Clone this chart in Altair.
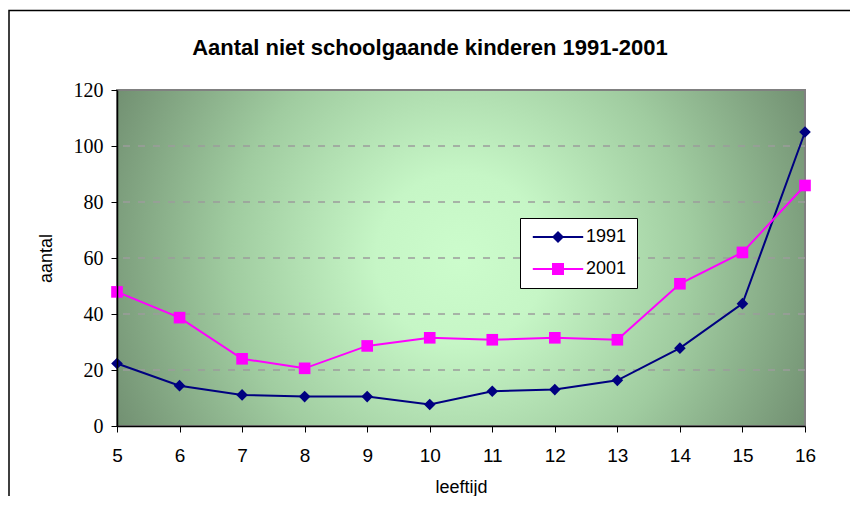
import altair as alt
import pandas as pd

# ---- data ----
ages = [5, 6, 7, 8, 9, 10, 11, 12, 13, 14, 15, 16]
v1991 = [22.3, 14.4, 11.1, 10.5, 10.5, 7.7, 12.4, 13.0, 16.3, 27.8, 43.7, 105.0]
v2001 = [47.9, 38.7, 24.0, 20.6, 28.6, 31.5, 30.8, 31.5, 30.8, 50.8, 62.0, 85.9]
series = ["1991", "2001"]
series_colors = ["#000080", "#ff00ff"]
y_ticks = [0, 20, 40, 60, 80, 100, 120]
grid_values = [20, 40, 60, 80, 100]

rows = []
for name, vals in zip(series, [v1991, v2001]):
    for a, v in zip(ages, vals):
        rows.append({"leeftijd": a, "aantal": v, "serie": name, "lijn": name})
df = pd.DataFrame(rows)
grid_df = pd.DataFrame({"g": grid_values})
one = pd.DataFrame({"k": [0]})

W, H = 688, 336
xscale = alt.Scale(domain=[5, 16], nice=False, zero=False)
yscale = alt.Scale(domain=[0, 120], nice=False)

bg_gradient = {
    "gradient": "radial",
    "x1": 0.5, "y1": 0.5, "r1": 0,
    "x2": 0.5, "y2": 0.5, "r2": 0.56,
    "stops": [
        {"offset": 0, "color": "#ccfccc"},
        {"offset": 0.22, "color": "#c6f6c6"},
        {"offset": 0.6, "color": "#a0cca0"},
        {"offset": 1, "color": "#718f71"},
    ],
}

frame = alt.Chart(one).mark_rect(
    fill="transparent", stroke="black", strokeWidth=1.5
).encode(
    x=alt.value(-108), x2=alt.value(900), y=alt.value(-79.5), y2=alt.value(700)
)

bg = alt.Chart(one).mark_rect(
    fill=bg_gradient, stroke="#808080", strokeWidth=2
).encode(
    x=alt.value(0), x2=alt.value("width"), y=alt.value(0), y2=alt.value("height")
)

xaxis = alt.Axis(
    values=ages, format="d", title="leeftijd", grid=False, zindex=1,
    tickSize=6, tickColor="black", domainColor="black", domainWidth=1.5,
    labelFont="Liberation Sans", labelFontSize=19, labelColor="black",
    labelPadding=14, labelFlush=False,
    titleFont="Liberation Sans", titleFontSize=18, titleFontWeight="normal",
    titleColor="black", titlePadding=13,
)
yaxis = alt.Axis(
    values=y_ticks, format="d", title="aantal", grid=False, zindex=1,
    tickSize=6, tickColor="black", domainColor="black", domainWidth=1.5,
    labelFont="Liberation Serif", labelFontSize=20, labelColor="black",
    labelPadding=8,
    titleFont="Liberation Sans", titleFontSize=18, titleFontWeight="normal",
    titleColor="black", titlePadding=18,
)

grid = alt.Chart(grid_df).mark_rule(
    color="#9c9c9c", strokeDash=[7, 8], strokeWidth=1.5
).encode(y=alt.Y("g:Q", scale=yscale, axis=yaxis, title="aantal"))

LX, LY = 403, 128
common_legend = dict(
    title=None, orient="none", legendX=LX, legendY=LY, padding=10,
    labelFont="Liberation Sans", labelFontSize=18, labelColor="black",
    symbolSize=144, symbolOffset=19, labelOffset=19, rowPadding=14,
)

lines = alt.Chart(df).mark_line(strokeWidth=2).encode(
    x=alt.X("leeftijd:Q", scale=xscale, axis=xaxis),
    y=alt.Y("aantal:Q", scale=yscale, axis=yaxis, title="aantal"),
    stroke=alt.Stroke(
        "lijn:N", scale=alt.Scale(range=series_colors),
        legend=alt.Legend(
            fillColor="white", strokeColor="black", zindex=0,
            symbolType="M-4.2,0H4.2", symbolStrokeWidth=2,
            **common_legend,
        ),
    ),
)

points = alt.Chart(df).mark_point(filled=True, opacity=1, size=135).encode(
    x=alt.X("leeftijd:Q", scale=xscale, axis=xaxis),
    y=alt.Y("aantal:Q", scale=yscale, axis=yaxis, title="aantal"),
    color=alt.Color(
        "serie:N", scale=alt.Scale(domain=series, range=series_colors),
        legend=alt.Legend(labelOpacity=0, zindex=1, **common_legend),
    ),
    shape=alt.Shape(
        "serie:N", scale=alt.Scale(domain=series, range=["diamond", "square"]),
        legend=alt.Legend(labelOpacity=0, zindex=1, **common_legend),
    ),
)

chart = alt.layer(frame, bg, grid, lines, points).properties(
    width=W, height=H,
    title=alt.TitleParams(
        text="Aantal niet schoolgaande kinderen  1991-2001",
        font="Liberation Sans", fontSize=22, fontWeight="bold", color="black",
        anchor="middle", dx=-31, offset=0, dy=67, baseline="alphabetic",
        frame="group",
    ),
    autosize=alt.AutoSizeParams(type="none"),
    padding={"left": 109, "top": 82, "right": 45, "bottom": 70},
).configure_view(stroke="transparent")

chart.save("out.html", embed_options={"renderer": "svg", "actions": False})
